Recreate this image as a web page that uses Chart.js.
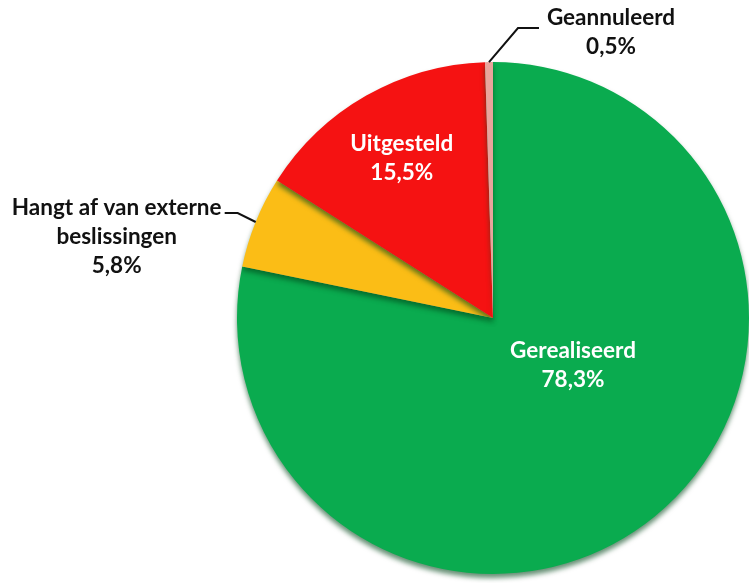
<!DOCTYPE html>
<html>
<head>
<meta charset="utf-8">
<script src="https://cdn.jsdelivr.net/npm/chart.js@4/dist/chart.umd.min.js"></script>
<style>
html,body{margin:0;padding:0;background:#fff;}
#wrap{width:749px;height:583px;position:relative;}
</style>
</head>
<body>
<div id="wrap"><canvas id="c" width="749" height="583"></canvas></div>
<script>
const categories = ["Gerealiseerd", "Hangt af van externe beslissingen", "Uitgesteld", "Geannuleerd"];
const values = [78.3, 5.8, 15.5, 0.5];
const valueLabels = ["78,3%", "5,8%", "15,5%", "0,5%"];
const labelLines = [["Gerealiseerd"], ["Hangt af van externe", "beslissingen"], ["Uitgesteld"], ["Geannuleerd"]];
const sliceColors = ["#0aab4f", "#fbbd16", "#f51212", "#e9a49c"];

// label placement config (relative to pie center / slice edge)
const labelCfg = [
  {mode: "inside", dx: 80, dy: 47, color: "#ffffff"},
  {mode: "outside", elbow: [-18, -9], end: [-31, -9], text: [-139, -14], color: "#111111"},
  {mode: "radial", frac: 0.72, dy: 0, color: "#ffffff"},
  {mode: "outside", elbow: [29, -34], end: [50, -34], text: [122, -44], color: "#111111"}
];

const FONT = "bold 22.5px Lato, 'Liberation Sans', sans-serif";
const LINE_H = 29;

const shadowPlugin = {
  id: "shadow",
  beforeDatasetsDraw(chart) {
    const ctx = chart.ctx;
    ctx.save();
    ctx.shadowColor = "rgba(0,70,25,0.6)";
    ctx.shadowBlur = 5;
    ctx.shadowOffsetY = 4;
  },
  afterDatasetsDraw(chart) {
    chart.ctx.restore();
  }
};

const labelPlugin = {
  id: "sliceLabels",
  afterDraw(chart) {
    const ctx = chart.ctx;
    const meta = chart.getDatasetMeta(0);
    ctx.save();
    ctx.font = FONT;
    ctx.textAlign = "center";
    ctx.textBaseline = "middle";
    meta.data.forEach((arc, i) => {
      const cfg = labelCfg[i];
      const cx = arc.x, cy = arc.y;
      const R = arc.outerRadius;
      const mid = (arc.startAngle + arc.endAngle) / 2;
      const lines = labelLines[i].concat([valueLabels[i]]);
      let tx, ty;
      if (cfg.mode === "inside") {
        tx = cx + cfg.dx; ty = cy + cfg.dy;
      } else if (cfg.mode === "radial") {
        tx = cx + Math.cos(mid) * R * cfg.frac;
        ty = cy + Math.sin(mid) * R * cfg.frac + cfg.dy;
      } else {
        const ex = cx + Math.cos(mid) * R;
        const ey = cy + Math.sin(mid) * R;
        ctx.beginPath();
        ctx.strokeStyle = "#111";
        ctx.lineWidth = 2;
        ctx.moveTo(ex, ey);
        ctx.lineTo(ex + cfg.elbow[0], ey + cfg.elbow[1]);
        ctx.lineTo(ex + cfg.end[0], ey + cfg.end[1]);
        ctx.stroke();
        tx = ex + cfg.text[0];
        ty = ey + cfg.text[1];
        ty = ty + (lines.length - 1) * LINE_H / 2;
      }
      const startY = ty - (lines.length - 1) * LINE_H / 2;
      ctx.fillStyle = cfg.color;
      lines.forEach((ln, k) => ctx.fillText(ln, tx, startY + k * LINE_H));
    });
    ctx.restore();
  }
};

new Chart(document.getElementById("c"), {
  type: "pie",
  data: {
    labels: categories,
    datasets: [{
      data: values,
      backgroundColor: sliceColors,
      borderWidth: 0
    }]
  },
  options: {
    responsive: false,
    animation: false,
    layout: {padding: {left: 237, right: 0, top: 62, bottom: 9}},
    plugins: {legend: {display: false}, tooltip: {enabled: false}}
  },
  plugins: [shadowPlugin, labelPlugin]
});
</script>
</body>
</html>
